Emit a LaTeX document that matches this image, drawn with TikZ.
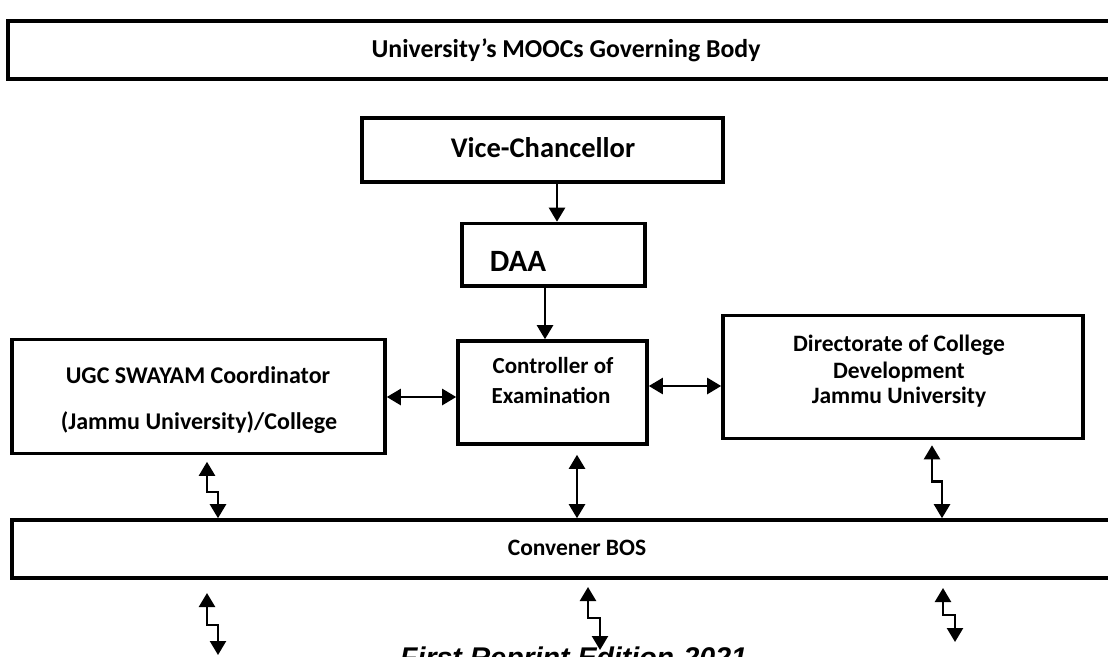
\documentclass[tikz,border=0pt]{standalone}
\usepackage{fontspec}
\setmainfont{Carlito}
\newfontfamily\footfont{Liberation Sans}
\usetikzlibrary{arrows.meta}
\tikzset{
  box/.style={draw, line width=3.6pt, inner sep=0pt},
  txt/.style={font=\bfseries\fontsize{#1}{#1}\selectfont, align=center, inner sep=0pt},
  conn/.style={line width=2.4pt, {Triangle[width=16pt,length=14pt]}-{Triangle[width=16pt,length=14pt]}},
  one/.style={line width=2.4pt, -{Triangle[width=16pt,length=14pt]}},
}
\begin{document}
\begin{tikzpicture}[x=1pt,y=-1pt]
\useasboundingbox (0,0) rectangle (1108,656);
\clip (0,0) rectangle (1108,656);
% boxes
\node[box, minimum width=1112pt, minimum height=58pt] (gb) at (564,50) {};
\node[txt=25.8] (gbt) at (566,50) {University’s MOOCs Governing Body};
\node[box, minimum width=361pt, minimum height=64pt] (vc) at (542.5,150) {};
\node[txt=28.5] (vct) at (543,148) {Vice-Chancellor};
\node[box, minimum width=183pt, minimum height=62.5pt] (daa) at (553.5,254.75) {};
\node[txt=31] (daat) at (518,261) {DAA};
\node[box, minimum width=373pt, minimum height=114pt] (ugc) at (198.5,396.5) {};
\node[txt=24] (ugct1) at (198,375) {UGC SWAYAM Coordinator};
\node[txt=24] (ugct2) at (199,423) {(Jammu University)/College};
\node[box, minimum width=189pt, minimum height=103pt] (ctrl) at (552.5,392.5) {};
\node[txt=23] (ctrlt1) at (553,366) {Controller of};
\node[txt=23] (ctrlt2) at (551,395) {Examination};
\node[box, minimum width=360pt, minimum height=123pt] (dir) at (903,377) {};
\node[txt=23.5] (dirt1) at (899,345) {Directorate of College};
\node[txt=23.5] (dirt2) at (899,372) {Development};
\node[txt=23.5] (dirt3) at (899,397) {Jammu University};
\node[box, minimum width=1108pt, minimum height=58pt] (bos) at (566,549) {};
\node[txt=23.5] (bost) at (577,548) {Convener BOS};
% connectors
\draw[one] ([xshift=14.5pt]vc.south) -- ([xshift=3.5pt]daa.north);
\draw[one] ([xshift=-8.5pt]daa.south) -- ([xshift=-7.5pt]ctrl.north);
\draw[conn] ([yshift=-0.5pt]ugc.east) -- ([yshift=-4.5pt]ctrl.west);
\draw[conn] ([yshift=6.5pt]ctrl.east) -- ([yshift=-9pt]dir.west);
\draw[conn] ([xshift=8.5pt,yshift=-6.5pt]ugc.south) -- ++(0,30) -- ++(11,0) -- ([xshift=-348pt]bos.north);
\draw[conn] ([xshift=24.5pt,yshift=-9pt]ctrl.south) -- ([xshift=11pt]bos.north);
\draw[conn] ([xshift=29pt,yshift=-5pt]dir.south) -- ++(0,36) -- ++(10,0) -- ([xshift=376pt]bos.north);
% arrows below Convener BOS
\coordinate (l1) at (207,593);
\coordinate (m1) at (588,587);
\coordinate (r1) at (943,588);
\draw[conn] (l1) -- ++(0,32) -- ++(11,0) -- ++(0,30);
\draw[conn] (m1) -- ++(0,31) -- ++(12,0) -- ++(0,32);
\draw[conn] (r1) -- ++(0,27) -- ++(12,0) -- ++(0,27);
\node[font=\footfont\bfseries\itshape\fontsize{28.5}{30}\selectfont, anchor=base west, inner sep=0pt] (ft) at (400,667) {First Reprint Edition-2021.};
\end{tikzpicture}
\end{document}
